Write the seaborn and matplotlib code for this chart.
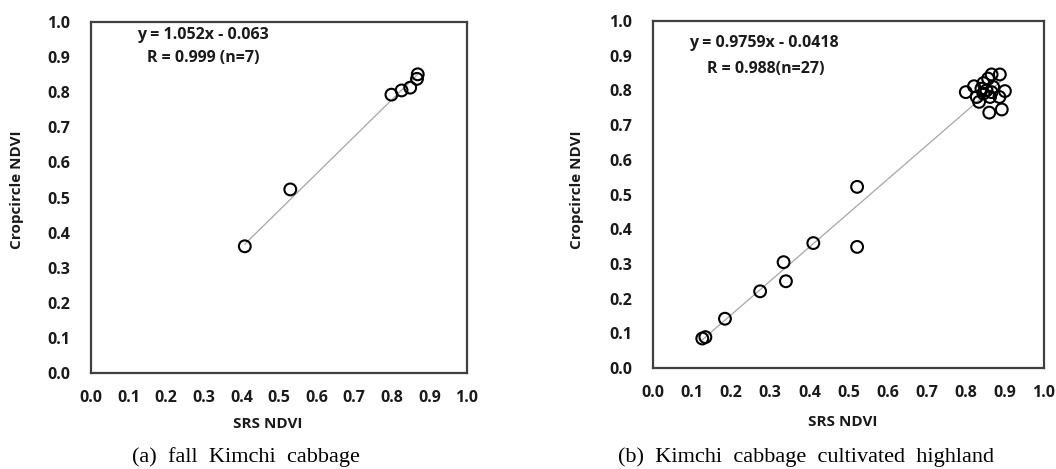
import numpy as np
import pandas as pd
import matplotlib
matplotlib.use("Agg")
import matplotlib.pyplot as plt
import seaborn as sns

sns.set_theme(style="white")
plt.rcParams['font.family'] = ['Open Sans', 'DejaVu Sans']

# ---- data ----
fall_srs = [0.409, 0.530, 0.799, 0.826, 0.849, 0.867, 0.869]
fall_crop = [0.361, 0.523, 0.793, 0.805, 0.813, 0.838, 0.851]
fall_slope, fall_intercept = 1.052, -0.063

high_srs = [0.126, 0.134, 0.184, 0.274, 0.334, 0.340, 0.410, 0.522, 0.522,
            0.800, 0.821, 0.845, 0.866, 0.887, 0.857, 0.900, 0.886, 0.860,
            0.892, 0.834, 0.828, 0.845, 0.853, 0.866, 0.870, 0.840, 0.862]
high_crop = [0.085, 0.089, 0.142, 0.221, 0.305, 0.250, 0.360, 0.522, 0.349,
             0.795, 0.812, 0.821, 0.846, 0.846, 0.834, 0.798, 0.781, 0.736,
             0.745, 0.767, 0.781, 0.791, 0.800, 0.795, 0.810, 0.805, 0.781]
high_slope, high_intercept = 0.9759, -0.0418

ticks = [0.0, 0.1, 0.2, 0.3, 0.4, 0.5, 0.6, 0.7, 0.8, 0.9, 1.0]
tick_labels = ["0.0", "0.1", "0.2", "0.3", "0.4", "0.5", "0.6", "0.7", "0.8", "0.9", "1.0"]

W, H = 1056, 469
fig = plt.figure(figsize=(W / 100, H / 100), dpi=100)

def px_axes(l, t, r, b):
    return fig.add_axes([l / W, 1 - b / H, (r - l) / W, (b - t) / H])

ax1 = px_axes(91, 22, 467, 373)
ax2 = px_axes(653, 21, 1044, 368)

TXT = "#1a1a1a"
FS = 11.5

def draw(ax, xs, ys, slope, intercept, eq, rtxt, eqpos, rpos):
    df = pd.DataFrame({"x": xs, "y": ys})
    lx = np.array([min(xs), max(xs)])
    ldf = pd.DataFrame({"x": lx, "y": slope * lx + intercept})
    sns.lineplot(data=ldf, x="x", y="y", ax=ax, color="#a6a6a6", linewidth=0.9, zorder=1)
    sns.scatterplot(data=df, x="x", y="y", ax=ax, marker="o", s=72,
                    facecolors="none", edgecolor="black", linewidth=1.5, zorder=2)
    ax.set_xlim(0, 1)
    ax.set_ylim(0, 1)
    ax.set_xticks(ticks)
    ax.set_yticks(ticks)
    ax.set_xticklabels(tick_labels, fontweight="bold", fontsize=FS, color=TXT)
    ax.set_yticklabels(tick_labels, fontweight="bold", fontsize=FS, color=TXT)
    ax.tick_params(axis="both", length=0)
    ax.tick_params(axis="y", pad=15)
    ax.tick_params(axis="x", pad=12)
    ax.set_xlabel("")
    ax.set_ylabel("")
    for s in ax.spines.values():
        s.set_visible(True)
        s.set_color("#404040")
        s.set_linewidth(1.6)
    ax.grid(False)
    ax.text(eqpos[0], eqpos[1], eq, transform=ax.transAxes, ha="center", va="center",
            fontweight="bold", fontsize=FS, color=TXT)
    ax.text(rpos[0], rpos[1], rtxt, transform=ax.transAxes, ha="center", va="center",
            fontweight="bold", fontsize=FS, color=TXT)

draw(ax1, fall_srs, fall_crop, fall_slope, fall_intercept,
     "y = 1.052x - 0.063", "R = 0.999 (n=7)",
     ((203 - 91) / 376, (373 - 35) / 351), ((203 - 91) / 376, (373 - 58) / 351))
draw(ax2, high_srs, high_crop, high_slope, high_intercept,
     "y = 0.9759x - 0.0418", "R = 0.988(n=27)",
     ((764 - 653) / 391, (368 - 43) / 347), ((766 - 653) / 391, (368 - 69) / 347))

# axis labels
LFS = 11
fig.text(17 / W, 1 - 190 / H, "Cropcircle NDVI", rotation=90, ha="center", va="center",
         fontweight="bold", fontsize=LFS, color=TXT)
fig.text(577 / W, 1 - 190 / H, "Cropcircle NDVI", rotation=90, ha="center", va="center",
         fontweight="bold", fontsize=LFS, color=TXT)
fig.text(268 / W, 1 - 424 / H, "SRS NDVI", ha="center", va="center",
         fontweight="bold", fontsize=LFS, color=TXT)
fig.text(843 / W, 1 - 422 / H, "SRS NDVI", ha="center", va="center",
         fontweight="bold", fontsize=LFS, color=TXT)

# captions
fig.text(246 / W, 1 - 457 / H, "(a)  fall  Kimchi  cabbage", ha="center", va="center",
         fontsize=16, family=["Liberation Serif", "DejaVu Serif"], color="black")
fig.text(806 / W, 1 - 457 / H, "(b)  Kimchi  cabbage  cultivated  highland", ha="center", va="center",
         fontsize=16, family=["Liberation Serif", "DejaVu Serif"], color="black")

fig.savefig("out.png", dpi=100)
